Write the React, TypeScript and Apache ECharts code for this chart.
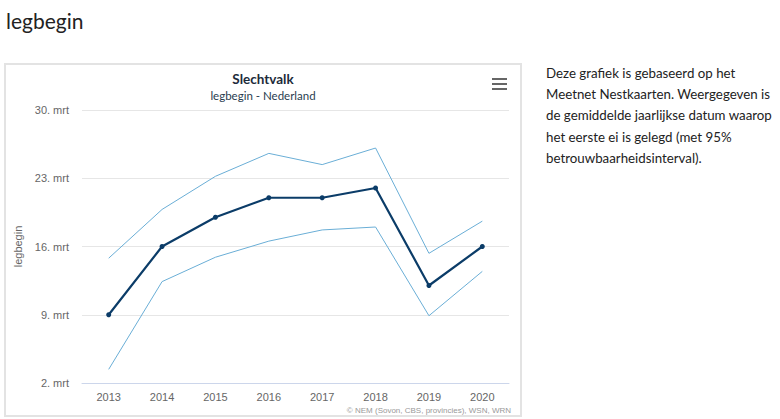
import React, { useEffect, useRef } from "react";
import * as echarts from "echarts";

const years = ["2013", "2014", "2015", "2016", "2017", "2018", "2019", "2020"];
const meanStart = [9.0, 16.0, 19.0, 21.0, 21.0, 22.0, 12.0, 16.0];
const upperCI = [14.8, 19.8, 23.2, 25.55, 24.4, 26.1, 15.3, 18.6];
const lowerCI = [3.4, 12.4, 14.9, 16.55, 17.7, 18.0, 8.9, 13.45];
const yTicks = [2, 9, 16, 23, 30];
const descLines = [
  "Deze grafiek is gebaseerd op het",
  "Meetnet Nestkaarten. Weergegeven is",
  "de gemiddelde jaarlijkse datum waarop",
  "het eerste ei is gelegd (met 95%",
  "betrouwbaarheidsinterval).",
];

export default function App() {
  const ref = useRef<HTMLDivElement>(null);
  useEffect(() => {
    if (!ref.current) return;
    const chart = echarts.init(ref.current, undefined, { renderer: "svg" });
    const axisFont = "'Liberation Sans', Arial, sans-serif";
    const pageFont = "Lato, 'Open Sans', sans-serif";
    const graphics: any[] = [
      {
        type: "text",
        left: 6,
        top: 10,
        style: { text: "legbegin", font: `400 21px ${pageFont}`, fill: "#222" },
      },
      {
        type: "rect",
        shape: { x: 5, y: 64, width: 516, height: 352 },
        style: { fill: "#fff", stroke: "#e3e3e3", lineWidth: 2 },
        z: -10,
      },
      {
        type: "text",
        x: 263,
        y: 79,
        style: {
          text: "Slechtvalk",
          font: `700 13.5px ${pageFont}`,
          fill: "#1c2b3a",
          align: "center",
          verticalAlign: "middle",
        },
      },
      {
        type: "text",
        x: 263,
        y: 95,
        style: {
          text: "legbegin - Nederland",
          font: `400 11.5px ${pageFont}`,
          fill: "#2a3d50",
          align: "center",
          verticalAlign: "middle",
        },
      },
      { type: "rect", shape: { x: 492, y: 78, width: 15, height: 2 }, style: { fill: "#666" } },
      { type: "rect", shape: { x: 492, y: 83, width: 15, height: 2 }, style: { fill: "#666" } },
      { type: "rect", shape: { x: 492, y: 88, width: 15, height: 2 }, style: { fill: "#666" } },
      {
        type: "text",
        x: 511,
        y: 410,
        style: {
          text: "© NEM (Sovon, CBS, provincies), WSN, WRN",
          font: `400 8px ${axisFont}`,
          fill: "#999",
          align: "right",
          verticalAlign: "middle",
        },
      },
    ];
    descLines.forEach((line, i) => {
      graphics.push({
        type: "text",
        x: 546,
        y: 73 + i * 21.2,
        style: {
          text: line,
          font: `400 13.3px ${pageFont}`,
          fill: "#222",
          verticalAlign: "middle",
        },
      });
    });

    const ciStyle = { color: "#6aaed6", width: 1 };
    chart.setOption({
      animation: false,
      graphic: graphics,
      grid: { left: 82, top: 110, width: 427, height: 273 },
      xAxis: {
        type: "category",
        data: years,
        boundaryGap: true,
        axisLine: { lineStyle: { color: "#ccd6eb", width: 1 } },
        axisTick: { alignWithLabel: true, length: 10, lineStyle: { color: "#ccd6eb" } },
        axisLabel: { color: "#666", fontFamily: axisFont, fontSize: 11, margin: 8 },
      },
      yAxis: {
        type: "value",
        min: 2,
        max: 30,
        interval: 7,
        name: "legbegin",
        nameLocation: "middle",
        nameGap: 58,
        nameTextStyle: { color: "#666", fontFamily: axisFont, fontSize: 11 },
        axisLine: { show: false },
        axisTick: { show: false },
        splitLine: { lineStyle: { color: "#e6e6e6", width: 1 } },
        axisLabel: {
          color: "#666",
          fontFamily: axisFont,
          fontSize: 11,
          margin: 13,
          formatter: (v: number) => (yTicks.includes(v) ? `${v}. mrt` : ""),
        },
      },
      series: [
        {
          name: "bovengrens",
          type: "line",
          data: upperCI,
          symbol: "none",
          lineStyle: ciStyle,
          z: 2,
        },
        {
          name: "ondergrens",
          type: "line",
          data: lowerCI,
          symbol: "none",
          lineStyle: ciStyle,
          z: 2,
        },
        {
          name: "legbegin",
          type: "line",
          data: meanStart,
          symbol: "circle",
          symbolSize: 5,
          itemStyle: { color: "#0b3c68" },
          lineStyle: { color: "#0b3c68", width: 2.2 },
          z: 3,
        },
      ],
    });
    return () => chart.dispose();
  }, []);
  return (
    <div
      ref={ref}
      style={{ position: "fixed", left: 0, top: 0, width: 780, height: 419, background: "#fff" }}
    />
  );
}
